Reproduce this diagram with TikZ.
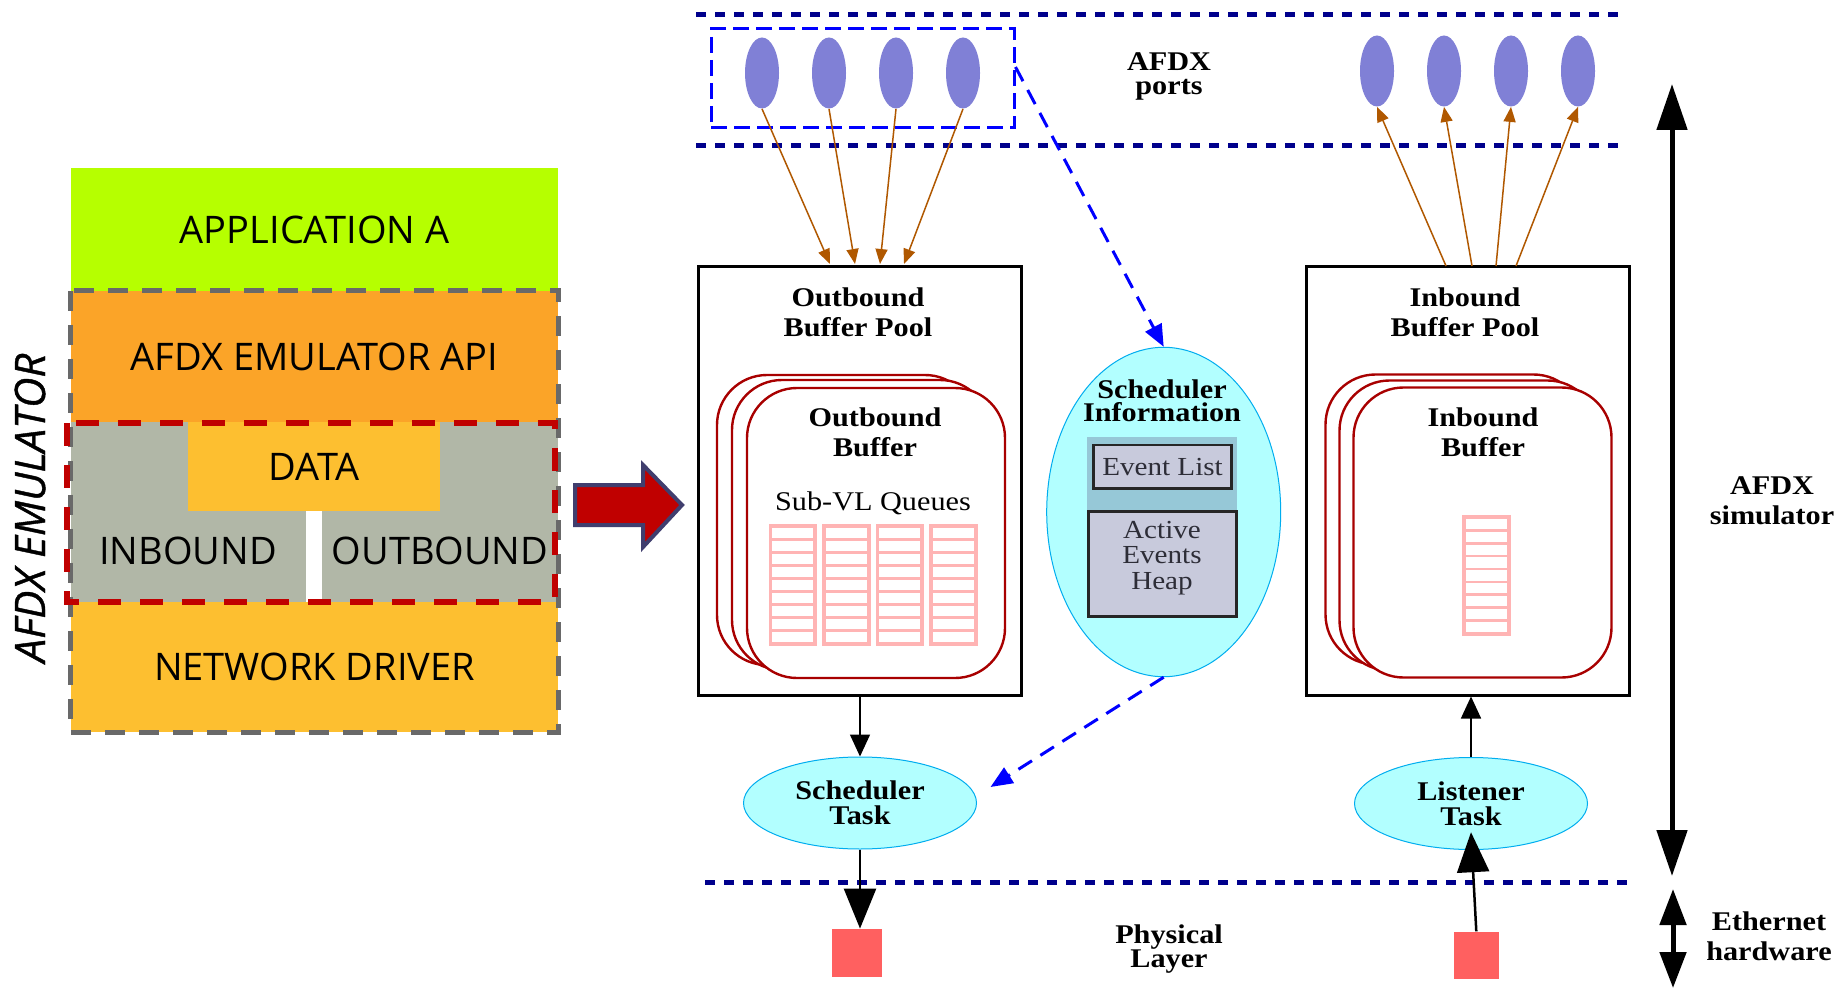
\documentclass[tikz,border=0pt]{standalone}
\usepackage{fontspec}
\usetikzlibrary{arrows.meta,shapes.geometric,calc}
\newfontfamily\figserif{Liberation Serif}[FakeStretch=1.12]
\newfontfamily\figsans{Open Sans}
\newfontfamily\figsansheavy{Open Sans}[FakeBold=0.9]
\newcommand\boldlbl[1]{\figserif\bfseries\fontsize{13.5}{#1}\selectfont}
\newcommand\plainlbl[1]{\figserif\fontsize{13}{#1}\selectfont}
\newcommand\layerfont{\figsans\fontsize{19}{22}\selectfont}
\lineskiplimit=-100pt
\lineskip=0pt

\definecolor{appgreen}{RGB}{182,255,0}
\definecolor{apiorange}{RGB}{251,164,40}
\definecolor{midgray}{RGB}{177,183,167}
\definecolor{drvyellow}{RGB}{253,191,48}
\definecolor{dashgray}{RGB}{105,105,105}
\definecolor{dashred}{RGB}{192,0,0}
\definecolor{arrowred}{RGB}{192,0,0}
\definecolor{arrowedge}{RGB}{64,62,110}
\definecolor{layerblue}{RGB}{0,0,140}
\definecolor{portblue}{RGB}{128,128,214}
\definecolor{linkbrown}{RGB}{176,88,0}
\definecolor{bufred}{RGB}{168,0,0}
\definecolor{queuepink}{RGB}{255,180,180}
\definecolor{taskcyan}{RGB}{178,255,255}
\definecolor{bandblue}{RGB}{150,200,215}
\definecolor{listgray}{RGB}{200,202,220}
\definecolor{phyred}{RGB}{255,96,96}
\definecolor{inktext}{RGB}{45,45,55}

\begin{document}
\begin{tikzpicture}[x=0.5pt,y=-0.5pt,
  layer/.style={rectangle, inner sep=0, minimum width=243.5pt, font=\layerfont},
  sanslbl/.style={inner sep=0, font=\layerfont},
  lbl/.style={inner sep=0, align=center, font={\boldlbl{15pt}}},
  txt/.style={inner sep=0, align=center, text=inktext, font={\plainlbl{12.9pt}}},
  pool/.style={rectangle, draw=black, line width=1.5pt, fill=white, minimum width=161.5pt, minimum height=214pt, inner sep=0},
  buffer/.style={rectangle, draw=bufred, line width=1.2pt, fill=white, rounded corners=25pt, minimum width=129pt, minimum height=145pt, inner sep=0},
  port/.style={ellipse, fill=portblue, minimum width=17pt, minimum height=35.5pt, inner sep=0},
  task/.style={ellipse, fill=taskcyan, draw=cyan, line width=0.5pt, minimum width=116.5pt, minimum height=46pt, inner sep=0, align=center, font={\boldlbl{12.5pt}}},
  listbox/.style={rectangle, fill=listgray, draw=black!85, line width=1.25pt, inner sep=0, text=inktext, font={\plainlbl{13pt}}},
  phy/.style={rectangle, fill=phyred, inner sep=0},
  layerline/.style={layerblue, line width=2.5pt, dash pattern=on 4.75pt off 4.75pt},
  linkbr/.style={linkbrown, line width=0.75pt, -{Triangle[length=7.5pt,width=6pt]}},
  infolink/.style={blue, line width=1.5pt, dash pattern=on 8pt off 5pt, -{Triangle[length=11pt,width=9pt]}},
  flow/.style={black, line width=0.75pt, -{Triangle[length=11pt,width=10pt]}},
  bigflow/.style={black, line width=1.25pt, -{Triangle[length=20pt,width=16pt]}},
  span/.style={black, line width=2.5pt, {Triangle[length=23pt,width=15pt]}-{Triangle[length=23pt,width=15pt]}},
  spansmall/.style={black, line width=2.5pt, {Triangle[length=18pt,width=13pt]}-{Triangle[length=18pt,width=13pt]}}
]
\useasboundingbox[fill=white] (0,0) rectangle (1841,989);

% ---------- emulator software stack ----------
\node[layer, fill=appgreen, minimum height=61.5pt] (app) at (314.5,229.5) {APPLICATION A};
\node[layer, fill=apiorange, minimum height=65.5pt] (api) at (314.5,356.5) {AFDX EMULATOR API};
\node[layer, fill=midgray, minimum height=90pt] (io) at (314.5,512) {};
\node[rectangle, fill=drvyellow, minimum width=126pt, minimum height=44.5pt, inner sep=0, font=\layerfont] (data) at (314,466.5) {DATA};
\node[rectangle, fill=white, minimum width=8pt, minimum height=45.5pt, inner sep=0] (gap) at (313.5,556.5) {};
\node[sanslbl] (inb) at (188,551) {INBOUND};
\node[sanslbl] (outb) at (440,551) {OUTBOUND};
\node[layer, fill=drvyellow, minimum height=65pt] (drv) at (314.5,667) {NETWORK DRIVER};
\draw[dashgray, line width=2.5pt, dash pattern=on 10pt off 7pt] (api.north west) rectangle (drv.south east);
\draw[dashred, line width=2.6pt, dash pattern=on 11.5pt off 9.5pt] (67,423) rectangle (555,602);
\node[inner sep=0, font=\figsansheavy\itshape\fontsize{21}{24}\selectfont, rotate=90] (emu) at (30,508) {AFDX EMULATOR};

% ---------- zoom arrow ----------
\draw[fill=arrowred, draw=arrowedge, line width=2pt, line join=miter]
  (575,485) -- (643,485) -- (643,465) -- (682,505) -- (643,547) -- (643,525) -- (575,525) -- cycle;

% ---------- layer boundaries ----------
\draw[layerline] (696,15) -- (1622,15);
\draw[layerline] (696,146) -- (1622,146);
\draw[layerline] (705,882) -- (1630,882);

% ---------- AFDX ports ----------
\node[rectangle, draw=blue, line width=1.5pt, dash pattern=on 8pt off 3.5pt, minimum width=151.5pt, minimum height=49.5pt, inner sep=0] (pr) at (862.5,78.5) {};
\foreach \i/\x in {1/762,2/829,3/896,4/963} \node[port] (p\i) at (\x,73) {};
\foreach \i/\x in {1/1377,2/1444,3/1511,4/1578} \node[port] (q\i) at (\x,71) {};
\node[lbl, font={\boldlbl{12pt}}] (portslbl) at (1169,76) {AFDX\\ports};

% ---------- outbound buffer pool ----------
\node[pool] (obp) at (860,481) {};
\node[lbl] (obptxt) at (858,312.5) {Outbound\\Buffer Pool};
\node[buffer] (ob3) at (846,520) {};
\node[buffer] (ob2) at (861,525) {};
\node[buffer] (ob1) at (876,533) {};
\node[lbl] (obtxt) at (875,432.5) {Outbound\\Buffer};
\node[txt, font={\figserif\fontsize{13.5}{15}\selectfont}, text=black, anchor=base] (subvl) at (873,510) {Sub-VL Queues};
\foreach \x in {768.5,822,875.5,929} {
  \fill[queuepink] (\x,524) rectangle ++(48.5,122);
  \foreach \k in {0,...,8} \fill[white] ({\x+3.8},{528+\k*12.94}) rectangle ++(40.9,10.44);
}

% ---------- inbound buffer pool ----------
\node[pool] (ibp) at (1468,481) {};
\node[lbl] (ibptxt) at (1465,312.5) {Inbound\\Buffer Pool};
\node[buffer] (ib3) at (1454.5,519.5) {};
\node[buffer] (ib2) at (1468.5,525.5) {};
\node[buffer] (ib1) at (1482.5,532.5) {};
\node[lbl] (ibtxt) at (1483,432.5) {Inbound\\Buffer};
\fill[queuepink] (1462,515) rectangle ++(49,121);
\foreach \k in {0,...,8} \fill[white] (1465.8,{519+\k*12.83}) rectangle ++(41.4,10.33);

% ---------- port links ----------
\foreach \i/\x in {1/830,2/855,3/880,4/904} {
  \coordinate (obin\i) at (\x,264);
  \draw[linkbr] (p\i.south) -- (obin\i);
}
\foreach \i/\x in {1/1446,2/1472,3/1496,4/1516} {
  \coordinate (ibout\i) at (\x,266);
  \draw[linkbr] (ibout\i) -- (q\i.south);
}

% ---------- scheduler information ----------
\node[ellipse, fill=taskcyan, draw=cyan, line width=0.5pt, minimum width=117pt, minimum height=164.7pt, inner sep=0] (si) at (1163.7,512) {};
\node[lbl, font={\boldlbl{11.7pt}}] (sitxt) at (1162,400.7) {Scheduler\\Information};
\fill[bandblue] (1087.3,437.3) rectangle (1237.3,510);
\node[listbox, minimum width=69.2pt, minimum height=21.65pt] (el) at (1162.5,466.7) {Event List};
\node[listbox, minimum width=74.2pt, minimum height=52.5pt] (aeh) at (1162.5,564.2) {};
\node[txt] (aehtxt) at (1162,558) {Active\\Events\\Heap};

% ---------- tasks and physical layer ----------
\node[task] (st) at (860,803) {Scheduler\\Task};
\node[task] (lt) at (1471,803.5) {Listener\\Task};
\node[phy, minimum width=25.3pt, minimum height=24pt] (ps1) at (857,953) {};
\node[phy, minimum width=22.7pt, minimum height=23.6pt] (ps2) at (1476.3,955.4) {};
\node[lbl, font={\boldlbl{12pt}}] (phylbl) at (1169,949) {Physical\\Layer};

\draw[flow] (obp.south) -- (st.north);
\draw[flow] (lt.north) -- (lt.north |- ibp.south);
\draw[bigflow] (st.south) -- (st.south |- ps1.north);
\draw[bigflow] (ps2.north) -- ([yshift=8.9pt]lt.south);

\draw[infolink] ([yshift=5.75pt]pr.east) -- (si.north);
\draw[infolink] (si.south) -- ([xshift=6.75pt,yshift=8pt]st.east);

% ---------- extent markers ----------
\coordinate (simtop) at (1672,84);
\coordinate (simbot) at (1672,876);
\draw[span] (simtop) -- (simbot);
\node[lbl] (simlbl) at (1772,501) {AFDX\\simulator};
\coordinate (ethtop) at (1673,889);
\coordinate (ethbot) at (1673,988);
\draw[spansmall] (ethtop) -- (ethbot);
\node[lbl] (ethlbl) at (1769,936) {Ethernet\\hardware};
\end{tikzpicture}
\end{document}
